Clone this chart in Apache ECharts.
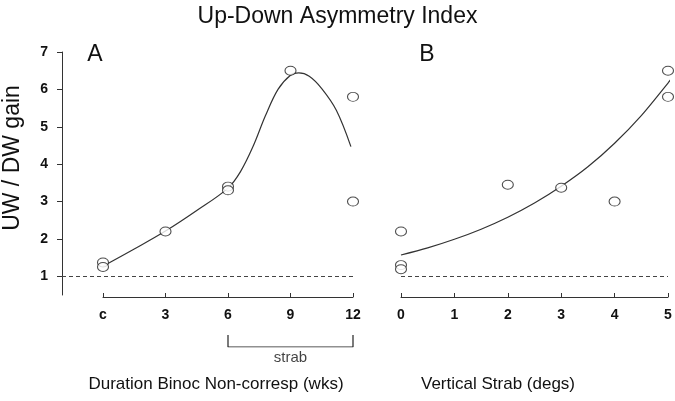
<!DOCTYPE html>
<html>
<head>
<meta charset="utf-8">
<script src="https://cdn.jsdelivr.net/npm/echarts@6/dist/echarts.min.js"></script>
<style>
html,body{margin:0;padding:0;background:#fff;}
#chart{width:675px;height:401px;}
</style>
</head>
<body>
<div id="chart"></div>
<script>
// ---- data ----
const titleText = 'Up-Down Asymmetry Index';
const yName = 'UW / DW gain';
const xNameA = 'Duration Binoc Non-corresp (wks)';
const xNameB = 'Vertical Strab (degs)';
const yTicks = [1, 2, 3, 4, 5, 6, 7];
const xTicksA = [0, 3, 6, 9, 12];
const xTickLabelsA = ['c', '3', '6', '9', '12'];
const xTicksB = [0, 1, 2, 3, 4, 5];
const refLevel = 1;
const strabRange = [6, 12];
const strabLabel = 'strab';

// Panel A points
const ptsAx = [0, 0, 3, 6, 6, 9, 12, 12];
const ptsAy = [1.37, 1.25, 2.2, 3.4, 3.3, 6.5, 5.8, 3.0];
// Panel A fitted curve
const curveAx = [0, 1.5, 3, 4.5, 6, 6.6, 7.2, 7.8, 8.4, 9.0, 9.4, 9.9, 10.5, 11.2, 11.9];
const curveAy = [1.27, 1.73, 2.21, 2.76, 3.36, 3.8, 4.47, 5.3, 6.0, 6.38, 6.44, 6.35, 6.02, 5.44, 4.47];

// Panel B points
const ptsBx = [0, 0, 0, 2, 3, 4, 5, 5];
const ptsBy = [2.2, 1.3, 1.19, 3.45, 3.37, 3.0, 6.5, 5.8];
// Panel B fitted curve
const curveBx = [0, 0.5, 1, 1.5, 2, 2.5, 3, 3.5, 4, 4.5, 5, 5.05];
const curveBy = [1.57, 1.76, 1.99, 2.26, 2.58, 2.96, 3.41, 3.93, 4.56, 5.3, 6.17, 6.26];

const zip = (xs, ys) => xs.map((x, i) => [x, ys[i]]);

const FONT = '"Liberation Sans", Arial, Helvetica, sans-serif';
const yMin = 0.5, yMax = 7;
const gridTop = 52, gridHeight = 243;

const circleStyle = { color: '#fff', borderColor: '#222', borderWidth: 1 };
const curveStyle = { color: '#333', width: 1.2 };
const dashStyle = { color: '#444', width: 1, type: [4, 3] };

const tickLabelStyle = { color: '#111', fontSize: 14, fontWeight: 'bold', fontFamily: FONT };

const chart = echarts.init(document.getElementById('chart'), null, { renderer: 'canvas' });

const option = {
  backgroundColor: '#fff',
  animation: false,
  title: {
    text: titleText, left: 'center', top: 0,
    textStyle: { fontFamily: FONT, fontSize: 23, fontWeight: 'normal', color: '#111' }
  },
  grid: [
    { left: 62, top: gridTop, width: 291, height: gridHeight },   // 0: panel A y-axis + reference line
    { left: 103, top: gridTop, width: 250, height: gridHeight },  // 1: panel A data
    { left: 401, top: gridTop, width: 267, height: gridHeight },  // 2: panel B data
    { left: 103, top: 335, width: 250, height: 12 }               // 3: strab bracket
  ],
  xAxis: [
    { gridIndex: 0, type: 'value', min: 0, max: 1, show: false },
    { gridIndex: 1, type: 'value', min: 0, max: 12, interval: 3, offset: 2,
      axisLine: { show: true, lineStyle: { color: '#333', width: 1 } },
      axisTick: { show: true, inside: true, length: 4, lineStyle: { color: '#333' } },
      axisLabel: { margin: 11, ...tickLabelStyle,
        formatter: v => { const i = xTicksA.indexOf(v); return i >= 0 ? xTickLabelsA[i] : ''; } },
      splitLine: { show: false } },
    { gridIndex: 2, type: 'value', min: 0, max: 5, interval: 1, offset: 2,
      axisLine: { show: true, lineStyle: { color: '#333', width: 1 } },
      axisTick: { show: true, inside: true, length: 4, lineStyle: { color: '#333' } },
      axisLabel: { margin: 11, ...tickLabelStyle },
      splitLine: { show: false } },
    { gridIndex: 3, type: 'value', min: 0, max: 12, show: false }
  ],
  yAxis: [
    { gridIndex: 0, type: 'value', min: yMin, max: yMax,
      axisLine: { show: true, lineStyle: { color: '#333', width: 1 } },
      axisTick: { show: true, inside: false, length: 5, customValues: yTicks, lineStyle: { color: '#333' } },
      axisLabel: { margin: 14, customValues: yTicks, ...tickLabelStyle },
      splitLine: { show: false } },
    { gridIndex: 1, type: 'value', min: yMin, max: yMax, show: false },
    { gridIndex: 2, type: 'value', min: yMin, max: yMax, show: false },
    { gridIndex: 3, type: 'value', min: 0, max: 1, show: false }
  ],
  series: [
    { type: 'line', xAxisIndex: 0, yAxisIndex: 0, data: [], symbol: 'none',
      markLine: { silent: true, symbol: 'none', label: { show: false },
        lineStyle: dashStyle, data: [{ yAxis: refLevel }] } },
    { type: 'line', xAxisIndex: 1, yAxisIndex: 1, data: zip(curveAx, curveAy),
      smooth: 0.35, symbol: 'none', lineStyle: curveStyle, z: 2 },
    { type: 'scatter', xAxisIndex: 1, yAxisIndex: 1, data: zip(ptsAx, ptsAy),
      symbol: 'circle', symbolSize: [11, 9], itemStyle: circleStyle, z: 3 },
    { type: 'line', xAxisIndex: 2, yAxisIndex: 2, data: [], symbol: 'none',
      markLine: { silent: true, symbol: 'none', label: { show: false },
        lineStyle: dashStyle, data: [{ yAxis: refLevel }] } },
    { type: 'line', xAxisIndex: 2, yAxisIndex: 2, data: zip(curveBx, curveBy),
      smooth: 0.3, symbol: 'none', lineStyle: curveStyle, z: 2 },
    { type: 'scatter', xAxisIndex: 2, yAxisIndex: 2, data: zip(ptsBx, ptsBy),
      symbol: 'circle', symbolSize: [11, 9], itemStyle: circleStyle, z: 3 },
    { type: 'line', xAxisIndex: 3, yAxisIndex: 3,
      data: [[strabRange[0], 1], [strabRange[0], 0], [strabRange[1], 0], [strabRange[1], 1]],
      symbol: 'none', lineStyle: { color: '#222', width: 1.2 } },
    { type: 'scatter', xAxisIndex: 3, yAxisIndex: 3,
      data: [[(strabRange[0] + strabRange[1]) / 2, 0]], symbolSize: 0,
      label: { show: true, position: 'bottom', distance: 3, formatter: strabLabel,
        color: '#111', fontSize: 15, fontFamily: FONT } }
  ],
  graphic: [
    { type: 'text', x: 13, y: 158, rotation: Math.PI / 2,
      style: { text: yName, fill: '#111', font: '23px ' + FONT, textAlign: 'center', textVerticalAlign: 'middle' } },
    { type: 'text', x: 95, y: 55,
      style: { text: 'A', fill: '#111', font: '23px ' + FONT, textAlign: 'center', textVerticalAlign: 'middle' } },
    { type: 'text', x: 427, y: 55,
      style: { text: 'B', fill: '#111', font: '23px ' + FONT, textAlign: 'center', textVerticalAlign: 'middle' } },
    { type: 'text', x: 216, y: 384,
      style: { text: xNameA, fill: '#111', font: '17px ' + FONT, textAlign: 'center', textVerticalAlign: 'middle' } },
    { type: 'text', x: 498, y: 384,
      style: { text: xNameB, fill: '#111', font: '17px ' + FONT, textAlign: 'center', textVerticalAlign: 'middle' } }
  ]
};
chart.setOption(option);
</script>
</body>
</html>
